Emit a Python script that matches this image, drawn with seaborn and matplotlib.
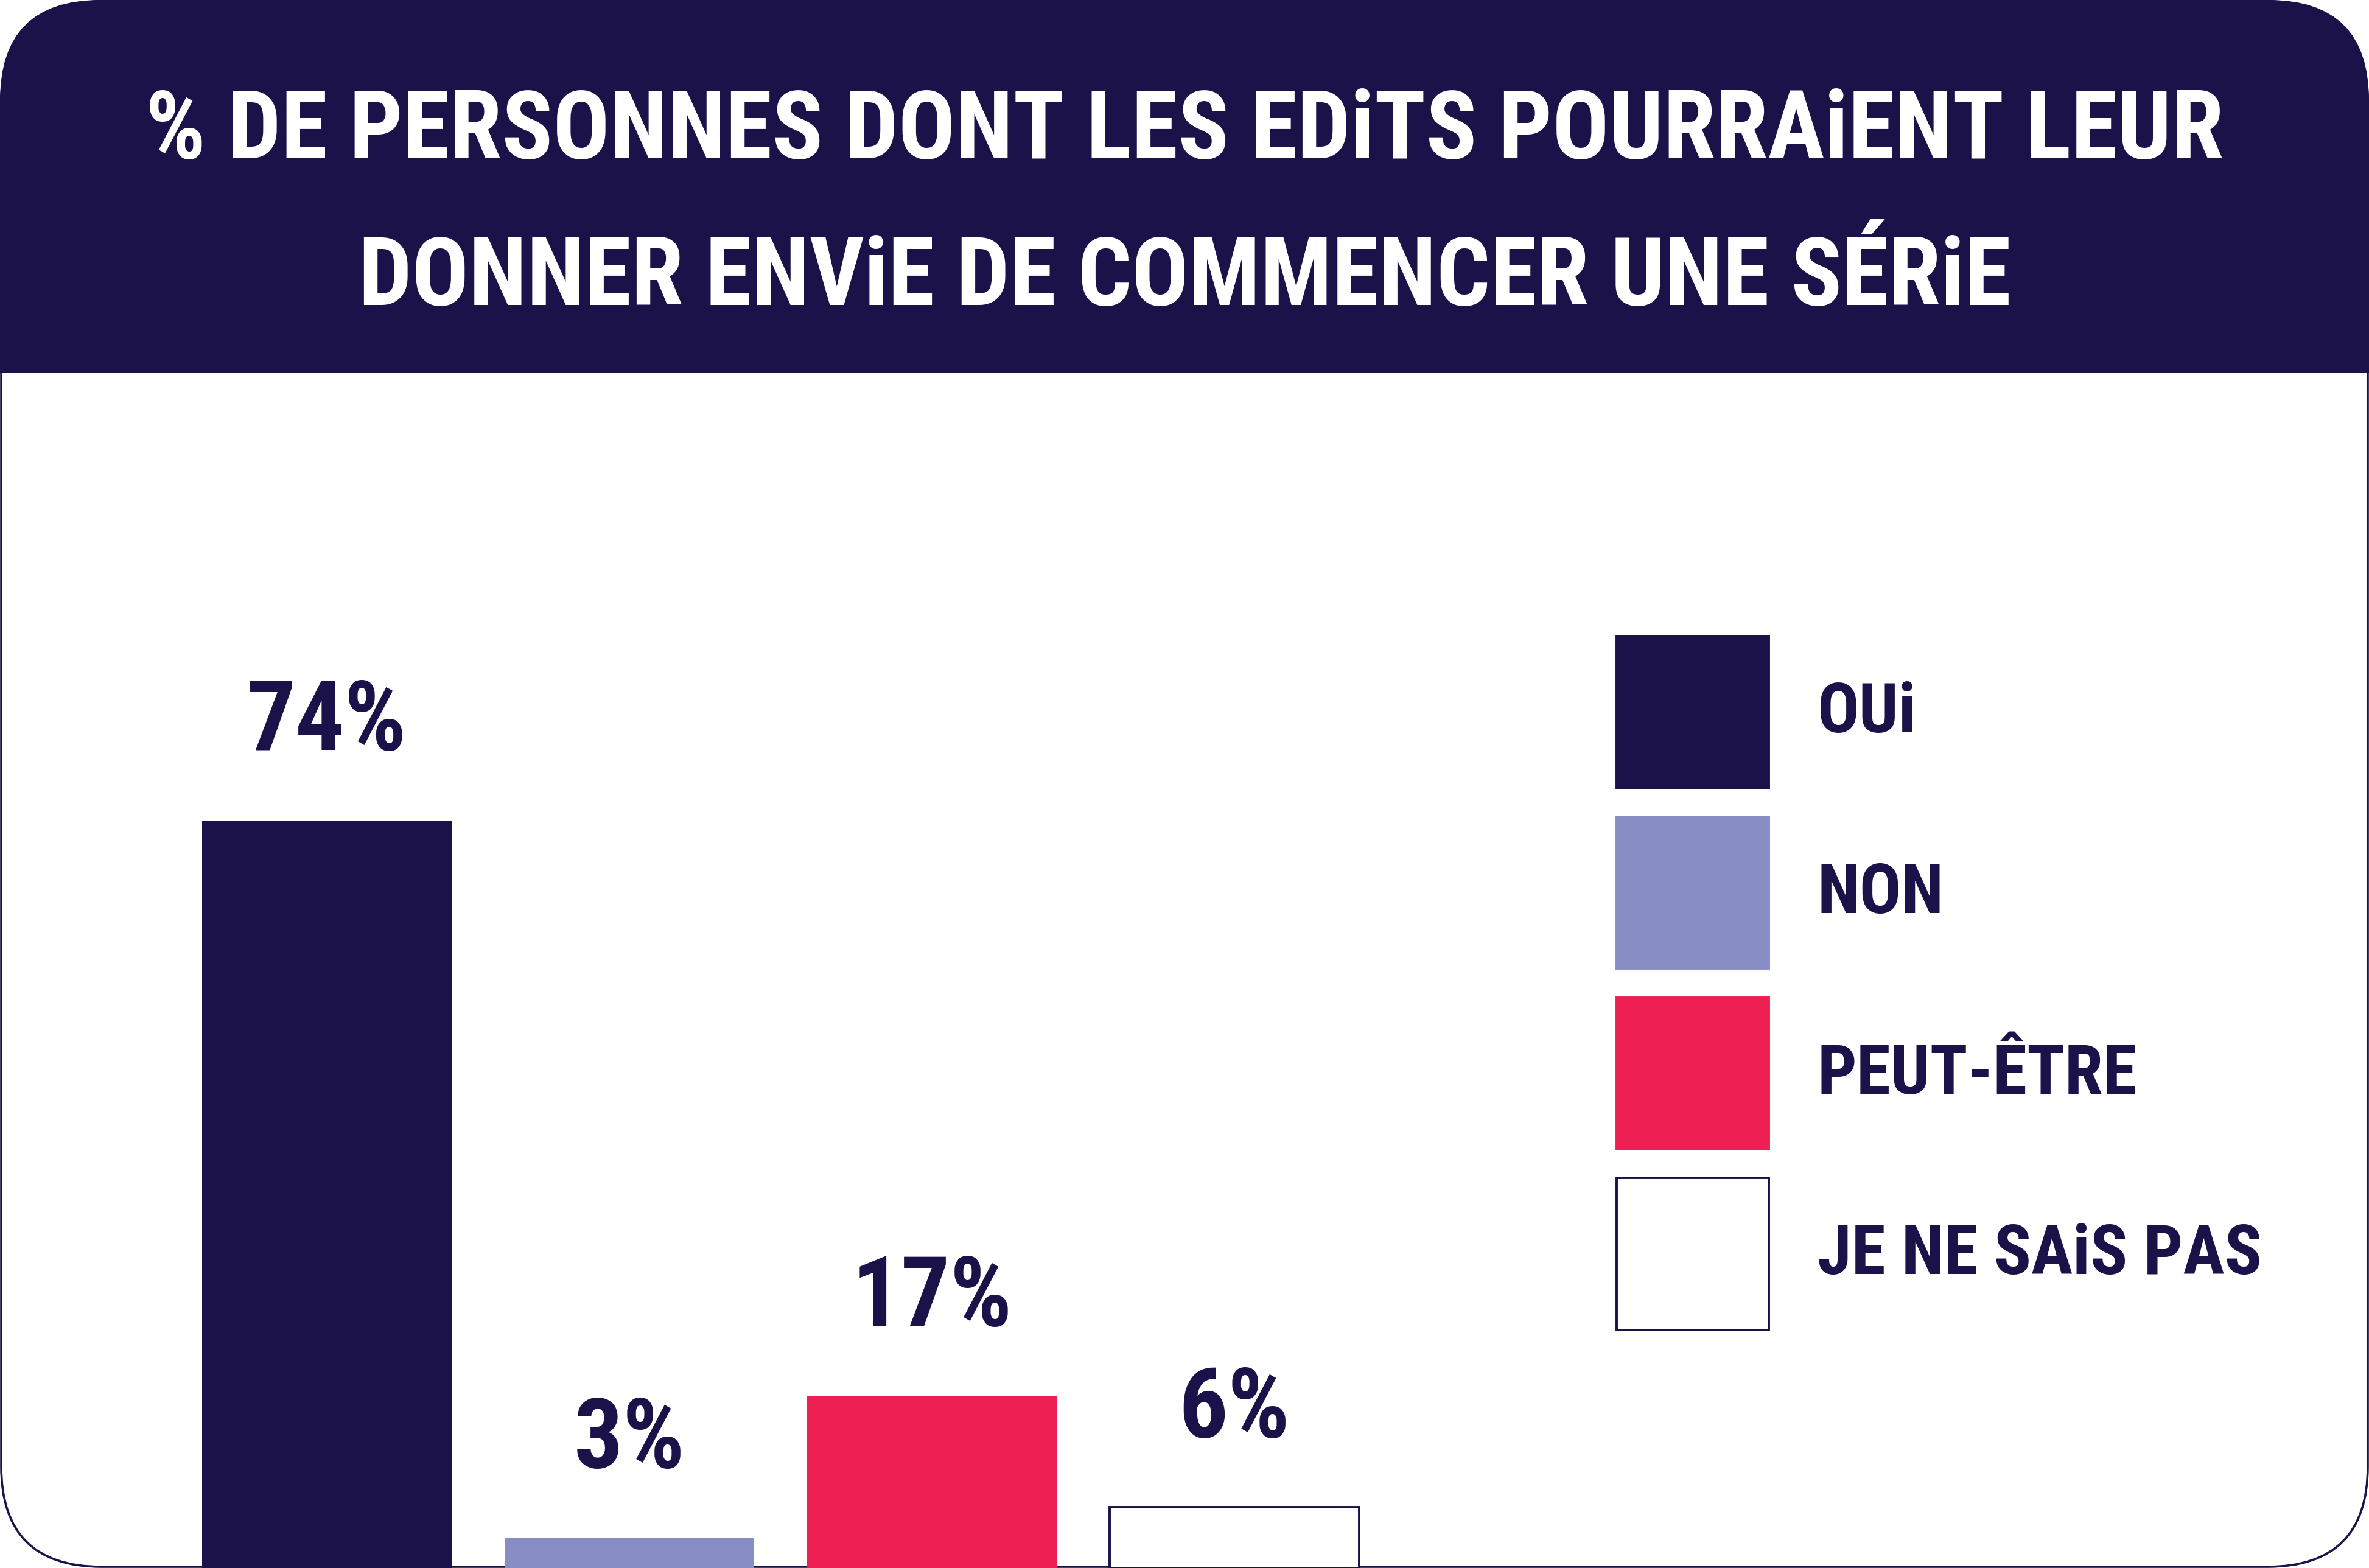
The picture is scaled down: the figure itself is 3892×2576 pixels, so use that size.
import numpy as np
import pandas as pd
import matplotlib
matplotlib.use('Agg')
import matplotlib.pyplot as plt
import seaborn as sns
from matplotlib import font_manager as fm
from matplotlib.patches import FancyBboxPatch, Rectangle, Patch

# chart content
categories = ['OUi', 'NON', 'PEUT-ÊTRE', 'JE NE SAiS PAS']
values = [74, 3, 17, 6]
value_labels = ['74%', '3%', '17%', '6%']
title_lines = ['% DE PERSONNES DONT LES EDiTS POURRAiENT LEUR',
               'DONNER ENViE DE COMMENCER UNE SÉRiE']

navy = '#1a1249'
colors = ['#1a1249', '#888dc4', '#ee1f52', '#ffffff']

W, H = 3892, 2576
sns.set_theme(style='white')

# pick a narrow font if one is installed
names = {f.name for f in fm.fontManager.ttflist}
font_name, font_stretch = 'DejaVu Sans', 'normal'
for n in ['Liberation Sans Narrow', 'Roboto Condensed', 'Open Sans Condensed', 'DejaVu Sans Condensed']:
    if n in names:
        font_name = n
        break
else:
    cond = [f for f in fm.fontManager.ttflist if 'condensed' in str(f.stretch)]
    if cond:
        font_name, font_stretch = cond[0].name, 'condensed'
plt.rcParams['font.family'] = [font_name, 'DejaVu Sans']
plt.rcParams['font.stretch'] = font_stretch

fig = plt.figure(figsize=(W / 100, H / 100), dpi=100)
fig.patch.set_facecolor('white')

# background axes in pixel units for the card frame and header
bg = fig.add_axes([0, 0, 1, 1])
bg.set_xlim(0, W)
bg.set_ylim(H, 0)
bg.axis('off')

bg.add_patch(FancyBboxPatch((2, 2), W - 4, H - 4, boxstyle='round,pad=0,rounding_size=165',
                            fc='white', ec=navy, lw=2.6))
bg.add_patch(FancyBboxPatch((0, 0), W, 612, boxstyle='round,pad=0,rounding_size=165',
                            fc=navy, ec='none'))
bg.add_patch(Rectangle((0, 400), W, 212, fc=navy, ec='none'))

t1 = bg.text(W / 2, 260, title_lines[0], ha='center', va='baseline', color='white',
             fontsize=122, fontweight='bold')
t2 = bg.text(W / 2, 501, title_lines[1], ha='center', va='baseline', color='white',
             fontsize=122, fontweight='bold')
# keep the first line about as wide as in the reference
fig.canvas.draw()
w1 = t1.get_window_extent().width
if w1 > 3415:
    s = 122 * 3415 / w1
    t1.set_fontsize(s)
    t2.set_fontsize(s)

# bar chart
df = pd.DataFrame({'cat': categories, 'val': values})
ax = fig.add_axes([288.5 / W, 0, 1988 / W, (H - 612) / H])
ax.set_zorder(2)
ax.patch.set_alpha(0)
sns.barplot(data=df, x='cat', y='val', hue='cat', palette=colors, width=0.825,
            legend=False, saturation=1, ax=ax)
for cont, c in zip(ax.containers, colors):
    for bar in cont:
        if c == '#ffffff':
            bar.set_edgecolor(navy)
            bar.set_linewidth(2.8)
        else:
            bar.set_edgecolor('none')
for cont, lab in zip(ax.containers, value_labels):
    ax.bar_label(cont, labels=[lab], padding=60, color=navy, fontsize=115, fontweight='bold')
ax.set_xlim(-0.5, 3.5)
ax.set_ylim(0, (H - 612) / 16.6)
ax.axis('off')

# legend
handles = [Patch(fc=c, ec=(navy if c == '#ffffff' else c), lw=2.8) for c in colors]
fs = 82
k = 87 / fs
fig.legend(handles, categories, loc='upper left', bbox_to_anchor=(2656 / W, 1 - 1045 / H),
           bbox_transform=fig.transFigure, frameon=False, prop={'size': fs, 'weight': 'bold'},
           labelcolor=navy, handlelength=2.07 * k, handleheight=(2.066 * k - 0.245) / 0.65,
           labelspacing=0.39 * k, handletextpad=0.66 * k, borderpad=0, borderaxespad=0)

fig.savefig('out.png', dpi=100)
